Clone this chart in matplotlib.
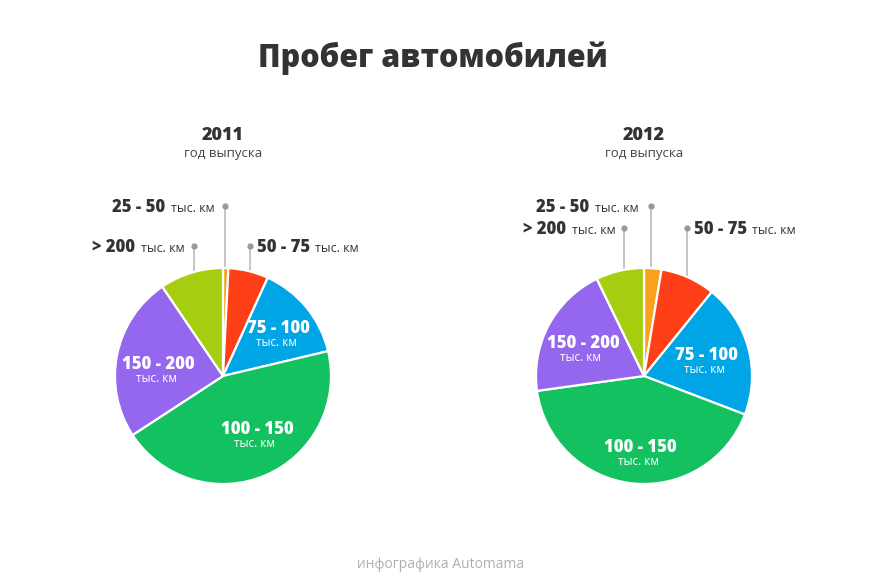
import numpy as np
import matplotlib.pyplot as plt

# доли пробега, % (по часовой стрелке от верха)
categories = ['25 - 50', '50 - 75', '75 - 100', '100 - 150', '150 - 200', '> 200']
share_2011 = [0.8, 6.0, 14.5, 44.5, 24.7, 9.5]
share_2012 = [2.6, 8.2, 20.0, 42.0, 20.0, 7.2]
years = ['2011', '2012']
colors = ['#F9A11B', '#FF3F17', '#00A5E6', '#14C161', '#9567EE', '#A6CE10']

W, H = 874, 588
FONT = 'Open Sans'
DARK = '#333333'
HEAVY = 'heavy'


def Y(p):
    return H - p


fig = plt.figure(figsize=(W / 100, H / 100), dpi=100)
ax = fig.add_axes([0, 0, 1, 1])
ax.set_xlim(0, W)
ax.set_ylim(0, H)
ax.axis('off')

R = 108
centers = [(223, 376), (644, 376)]

# подписи внутри секторов: (индекс категории, x, baseline)
inner = [
    [(2, 278, 333), (3, 257, 434), (4, 158, 369)],
    [(2, 706, 360), (3, 640, 452), (4, 583, 348)],
]
# выноски: (индекс, x точки, y точки, x конца жирного текста)
outer = [
    [(0, 225, 206, 165), (5, 194, 246, 135), (1, 250, 246, 308)],
    [(0, 651, 206, 589), (5, 624, 228, 566), (1, 687, 228, 745)],
]

for k, vals in enumerate([share_2011, share_2012]):
    cx, cy = centers[k]
    ax.pie(vals, colors=colors, center=(cx, Y(cy)), radius=R, startangle=90,
           counterclock=False, frame=True,
           wedgeprops=dict(edgecolor='white', linewidth=1.6))

    ax.text(cx, Y(140), years[k], ha='center', va='baseline', fontsize=13,
            fontweight=HEAVY, color=DARK, family=FONT)
    ax.text(cx, Y(157.5), 'год выпуска', ha='center', va='baseline', fontsize=9.5,
            color='#444444', family=FONT)

    for i, x, yb in inner[k]:
        ax.text(x, Y(yb), categories[i], ha='center', va='baseline', fontsize=12,
                fontweight=HEAVY, color='white', family=FONT)
        ax.text(x - 2, Y(yb + 13), 'тыс. км', ha='center', va='baseline',
                fontsize=8.5, color='white', family=FONT)

    for i, dx, dy, tx in outer[k]:
        edge = cy - np.sqrt(R ** 2 - (dx - cx) ** 2)
        ax.plot([dx, dx], [Y(dy), Y(edge)], color='#BBBBBB', lw=1.2, zorder=0)
        ax.plot(dx, Y(dy), 'o', color='#999999', ms=3.5, zorder=3)
        yb = dy + 6
        if dx > tx:
            ax.text(tx, Y(yb), categories[i], ha='right', va='baseline', fontsize=12,
                    fontweight=HEAVY, color=DARK, family=FONT)
            ax.text(tx + 6, Y(yb), 'тыс. км', ha='left', va='baseline', fontsize=9,
                    color=DARK, family=FONT)
        else:
            ax.text(dx + 7, Y(yb), categories[i], ha='left', va='baseline', fontsize=12,
                    fontweight=HEAVY, color=DARK, family=FONT)
            ax.text(tx + 7, Y(yb), 'тыс. км', ha='left', va='baseline', fontsize=9,
                    color=DARK, family=FONT)

ax.set_aspect('auto')
ax.set_xlim(0, W)
ax.set_ylim(0, H)

ax.text(433, Y(67), 'Пробег автомобилей', ha='center', va='baseline', fontsize=22,
        fontweight=HEAVY, color=DARK, family=FONT)
ax.text(441, Y(568), 'инфографика Automama', ha='center', va='baseline', fontsize=10,
        color='#AFAFAF', family=FONT)

fig.savefig('out.png', dpi=100, facecolor='white')
